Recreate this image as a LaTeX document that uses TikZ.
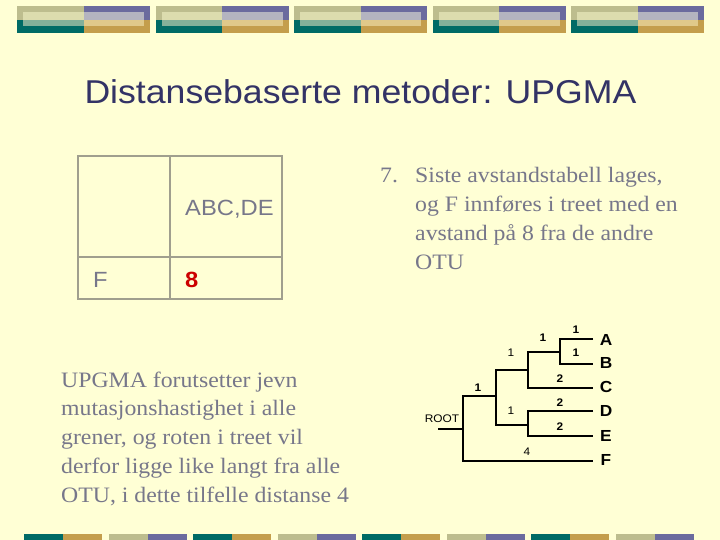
\documentclass[tikz,border=0pt]{standalone}
\usepackage{fontspec}
\setmainfont[FakeStretch=1.08]{Liberation Serif}
\newfontfamily\sfstretch[FakeStretch=1.08]{Liberation Sans}
\definecolor{bgc}{HTML}{FFFFD5}
\definecolor{khaki}{HTML}{BDBD8E}
\definecolor{purp}{HTML}{6B6B9E}
\definecolor{tealc}{HTML}{006B66}
\definecolor{goldc}{HTML}{C49E4C}
\definecolor{lkhaki}{HTML}{DCDCAE}
\definecolor{lpurp}{HTML}{B4B4C0}
\definecolor{lteal}{HTML}{84B09A}
\definecolor{lgold}{HTML}{E0C98A}
\definecolor{titlec}{HTML}{333366}
\definecolor{bodyc}{HTML}{77778A}
\definecolor{gridc}{HTML}{A09F8E}
\definecolor{redc}{HTML}{CC0000}
\tikzset{
  tree/.style={line width=2.3pt, line join=miter, black},
  leaf/.style={font=\sfstretch\bfseries\fontsize{16}{19}\selectfont, text=black, inner sep=0pt},
  blab/.style={font=\sfstretch\fontsize{11}{13}\selectfont, text=black, inner sep=0pt},
  blabb/.style={font=\sfstretch\bfseries\fontsize{11}{13}\selectfont, text=black, inner sep=0pt},
  grid/.style={draw=gridc, line width=1.5pt},
  body/.style={font=\fontsize{22}{28.8}\selectfont, text=bodyc, inner sep=0pt, anchor=base west},
  tabtxt/.style={font=\sfstretch\fontsize{22}{26}\selectfont, text=bodyc, inner sep=0pt, anchor=base west}
}
\begin{document}
\begin{tikzpicture}[x=1pt,y=-1pt]
\fill[bgc] (0,0) rectangle (720,540);
\useasboundingbox (0,0) rectangle (720,540);
% top bar
\foreach \x in {17,155.5,294,432.5,571}{
  \fill[khaki] (\x,6) rectangle (\x+66.5,20);
  \fill[purp] (\x+66.5,6) rectangle (\x+133,20);
  \fill[tealc] (\x,20) rectangle (\x+66.5,33);
  \fill[goldc] (\x+66.5,20) rectangle (\x+133,33);
  \fill[lkhaki] (\x+6,12) rectangle (\x+66.5,20);
  \fill[lpurp] (\x+66.5,12) rectangle (\x+127,20);
  \fill[lteal] (\x+6,20) rectangle (\x+66.5,26);
  \fill[lgold] (\x+66.5,20) rectangle (\x+127,26);
}
% bottom bar
\foreach \x/\ca/\cb in {24/tealc/goldc,108.5/khaki/purp,193/tealc/goldc,277.5/khaki/purp,362/tealc/goldc,446.5/khaki/purp,531/tealc/goldc,615.5/khaki/purp}{
  \fill[\ca] (\x,534) rectangle (\x+39,540);
  \fill[\cb] (\x+39,534) rectangle (\x+78,540);
}
% title
\node[font=\sfstretch\fontsize{33}{40}\selectfont, text=titlec, anchor=base, inner sep=0pt] (title) at (360.5,104) {Distansebaserte metoder: UPGMA};
% table
\draw[grid] (78,156) rectangle (282,299);
\draw[grid] (170,156) -- (170,299);
\draw[grid] (78,257) -- (282,257);
\node[tabtxt] (abcde) at (185,215) {ABC,DE};
\node[tabtxt] (frow) at (93,287) {F};
\node[tabtxt, font=\sfstretch\bfseries\fontsize{22}{26}\selectfont, text=redc] (eight) at (185,287) {8};
% right text
\node[body] (num) at (380,183) {7.};
\node[body] (step7) at (415,183) {\vtop{\baselineskip=28.8pt\hbox{Siste avstandstabell lages,}\hbox{og F innføres i treet med en}\hbox{avstand på 8 fra de andre}\hbox{OTU}}};
% left text
\node[body] (note) at (61,387) {\vtop{\baselineskip=28.8pt\hbox{UPGMA forutsetter jevn}\hbox{mutasjonshastighet i alle}\hbox{grener, og roten i treet vil}\hbox{derfor ligge like langt fra alle}\hbox{OTU, i dette tilfelle distanse 4}}};
% tree
\coordinate (rs) at (438,429);
\coordinate (r) at (463,429);
\coordinate (n1) at (496,396);
\coordinate (n2) at (528,370);
\coordinate (n3) at (560,352);
\coordinate (n4) at (528,425);
\coordinate (eA) at (593,339);
\coordinate (eB) at (593,364);
\coordinate (eC) at (593,388);
\coordinate (eD) at (593,411);
\coordinate (eE) at (593,436);
\coordinate (eF) at (593,461);
\draw[tree] (rs) -- (r);
\draw[tree] (n1) -| (r) |- (eF);
\draw[tree] (n2) -| (n1) |- (n4);
\draw[tree] (n3) -| (n2) |- (eC);
\draw[tree] (eA) -| (n3) |- (eB);
\draw[tree] (eD) -| (n4) |- (eE);
\node[leaf] (A) at (606,340) {A};
\node[leaf] (B) at (606,363) {B};
\node[leaf] (C) at (606,387) {C};
\node[leaf] (D) at (606,411) {D};
\node[leaf] (E) at (606,436) {E};
\node[leaf] (F) at (606,460) {F};
\node[blab] (root) at (442,419) {ROOT};
\node[blabb] (lA) at (576,330) {1};
\node[blabb] (lB) at (576,353) {1};
\node[blabb] (lAB) at (543,338) {1};
\node[blabb] (lC) at (560,379) {2};
\node[blab] (lABC) at (511,353) {1};
\node[blabb] (lD) at (560,403) {2};
\node[blabb] (lE) at (560,427) {2};
\node[blab] (lDE) at (511,411) {1};
\node[blabb] (lABCDE) at (478,388) {1};
\node[blab] (lF) at (527,452) {4};
\end{tikzpicture}
\end{document}
